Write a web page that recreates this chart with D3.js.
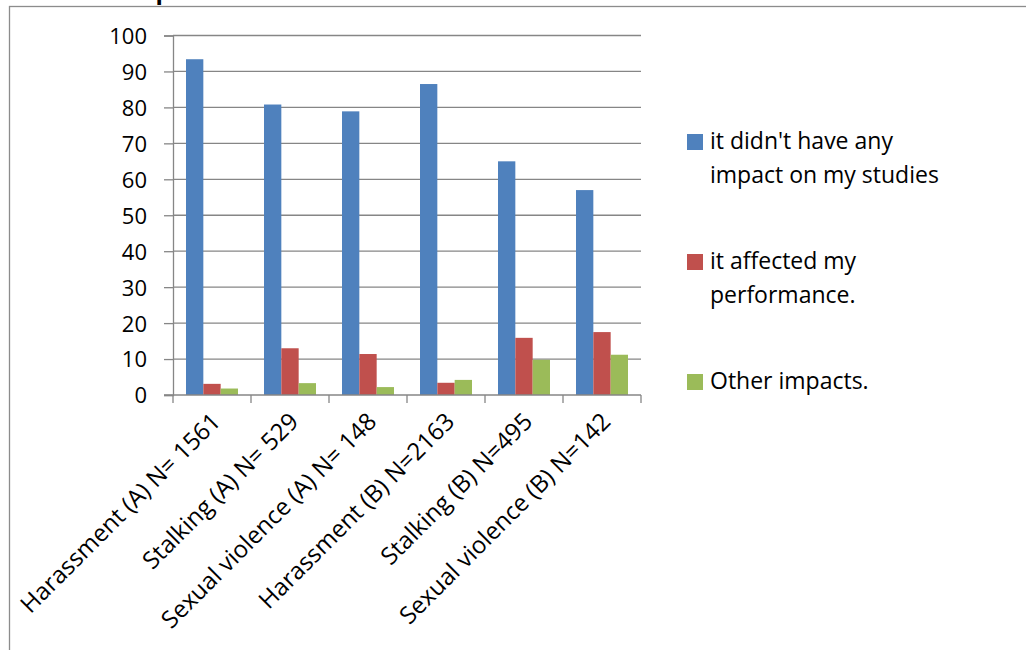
<!DOCTYPE html>
<html>
<head>
<meta charset="utf-8">
<script src="https://cdn.jsdelivr.net/npm/d3@7"></script>
<style>
  html, body { margin: 0; padding: 0; background: #fff; }
  svg { display: block; }
  text { font-family: "Open Sans", Lato, sans-serif; fill: #000; }
</style>
</head>
<body>
<svg id="chart" width="1026" height="650"></svg>
<script>
// Categories (incident type, survey group and sample size)
const categories = [
  "Harassment (A) N= 1561",
  "Stalking (A) N= 529",
  "Sexual violence (A) N= 148",
  "Harassment (B) N=2163",
  "Stalking (B) N=495",
  "Sexual violence (B) N=142"
];

// Series names as shown in the legend
const seriesNames = [
  "it didn't have any impact on my studies",
  "it affected my performance.",
  "Other impacts."
];

// Legend lines (wrapped)
const legendLines = [
  ["it didn't have any", "impact on my studies"],
  ["it affected my", "performance."],
  ["Other impacts."]
];

// Percentages per series, one value per category
const noImpact    = [93.4, 80.8, 78.9, 86.5, 65.0, 57.0];
const performance = [3.1, 13.0, 11.4, 3.4, 15.9, 17.5];
const otherImpact = [1.8, 3.3, 2.2, 4.2, 9.8, 11.2];

const yTicks = [0, 10, 20, 30, 40, 50, 60, 70, 80, 90, 100];

const colors = ["#4F81BD", "#C0504D", "#9BBB59"];
const seriesValues = [noImpact, performance, otherImpact];

const svg = d3.select("#chart");

// Outer chart frame (continues past the right and bottom edges)
svg.append("rect")
  .attr("x", 9.5).attr("y", 6.5)
  .attr("width", 1030).attr("height", 660)
  .attr("fill", "none")
  .attr("stroke", "#8c8c8c")
  .attr("stroke-width", 1.3);

// Chart title, mostly above the visible area
svg.append("text")
  .attr("x", 124).attr("y", -1)
  .attr("font-family", "Liberation Sans, Arial, sans-serif")
  .attr("font-weight", "bold")
  .attr("font-size", 24)
  .text("Impact on studies");

const plot = { left: 173, right: 641, top: 35.5, bottom: 395 };

const x0 = d3.scaleBand()
  .domain(categories)
  .range([plot.left, plot.right])
  .paddingInner(1 / 3)
  .paddingOuter(1 / 6);

const x1 = d3.scaleBand()
  .domain(d3.range(seriesNames.length))
  .range([0, x0.bandwidth()]);

const y = d3.scaleLinear().domain([0, 100]).range([plot.bottom, plot.top]);

const gridColor = "#868686";

// Horizontal gridlines
svg.append("g")
  .selectAll("line")
  .data(yTicks.filter(d => d > 0))
  .join("line")
  .attr("x1", plot.left).attr("x2", plot.right)
  .attr("y1", d => y(d)).attr("y2", d => y(d))
  .attr("stroke", gridColor)
  .attr("stroke-width", 1.3);

// Y axis
const yAxis = svg.append("g")
  .attr("transform", `translate(${plot.left},0)`)
  .call(d3.axisLeft(y).tickValues(yTicks).tickSize(9).tickPadding(17).tickFormat(d3.format("d")));
yAxis.select(".domain").attr("stroke", gridColor).attr("stroke-width", 1.3);
yAxis.selectAll(".tick line").attr("stroke", gridColor).attr("stroke-width", 1.3);
yAxis.selectAll(".tick text")
  .attr("font-family", "'Open Sans', sans-serif")
  .attr("font-size", 22)
  .attr("fill", "#000")
  .attr("dy", "0.36em");

// Bars
const groups = svg.append("g")
  .selectAll("g")
  .data(categories)
  .join("g")
  .attr("transform", d => `translate(${x0(d)},0)`);

groups.selectAll("rect")
  .data((c, i) => seriesValues.map((vals, s) => ({ s, v: vals[i] })))
  .join("rect")
  .attr("x", d => x1(d.s))
  .attr("width", x1.bandwidth())
  .attr("y", d => y(d.v))
  .attr("height", d => y(0) - y(d.v))
  .attr("fill", d => colors[d.s]);

// X axis baseline with category boundary ticks
const step = x0.step();
const boundaries = d3.range(categories.length + 1).map(i => x0(categories[0]) - step * x0.paddingOuter() + i * step);
const xAxis = svg.append("g");
xAxis.append("line")
  .attr("x1", plot.left - 9).attr("x2", plot.right)
  .attr("y1", y(0)).attr("y2", y(0))
  .attr("stroke", gridColor).attr("stroke-width", 1.3);
xAxis.selectAll("line.tick")
  .data(boundaries)
  .join("line")
  .attr("class", "tick")
  .attr("x1", d => d).attr("x2", d => d)
  .attr("y1", y(0)).attr("y2", y(0) + 8)
  .attr("stroke", gridColor).attr("stroke-width", 1.3);

// Rotated category labels
svg.append("g")
  .selectAll("text")
  .data(categories)
  .join("text")
  .attr("transform", d => `translate(${x0(d) + x0.bandwidth() / 2 + 10},${y(0) + 28}) rotate(-45)`)
  .attr("text-anchor", "end")
  .attr("font-size", 24)
  .text(d => d);

// Legend
const legend = svg.append("g").attr("transform", "translate(687,0)");
const legendTops = [134, 254, 374];
seriesNames.forEach((name, s) => {
  const g = legend.append("g").attr("transform", `translate(0,${legendTops[s]})`);
  g.append("rect").attr("width", 16).attr("height", 16).attr("fill", colors[s]);
  legendLines[s].forEach((line, j) => {
    g.append("text")
      .attr("x", 23)
      .attr("y", 15 + j * 33.5)
      .attr("font-size", 23)
      .text(line);
  });
});
</script>
</body>
</html>
